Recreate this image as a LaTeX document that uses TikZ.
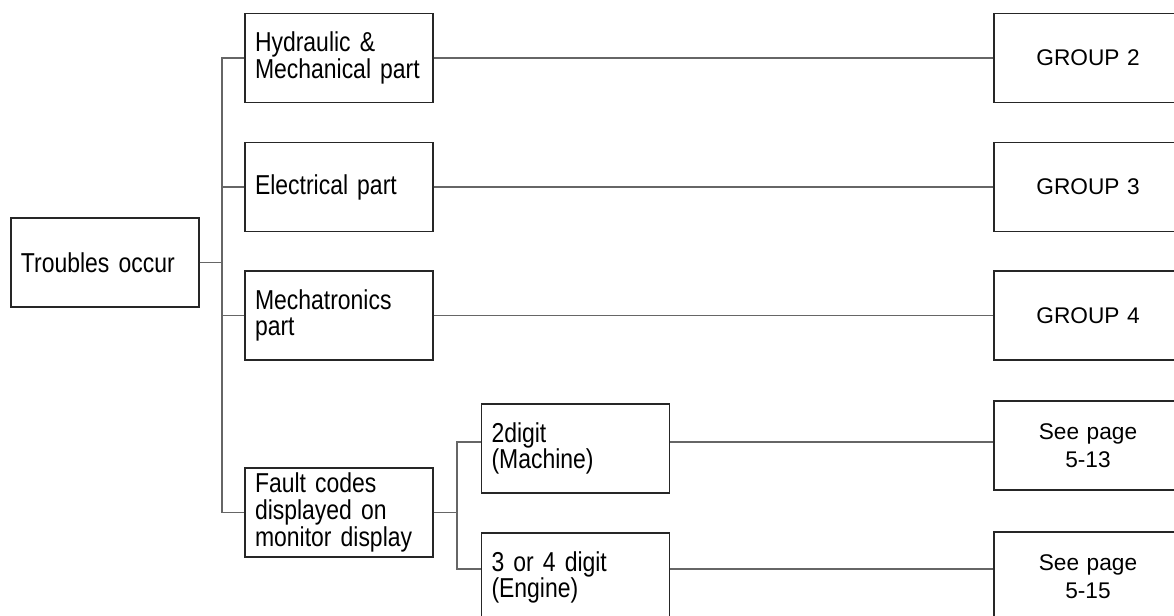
\documentclass[tikz,border=0pt]{standalone}
\usepackage{fontspec}
\setmainfont{Liberation Sans}
\newfontfamily\narrowfont[FakeStretch=0.84,WordSpace=0.8]{Liberation Sans}

\begin{document}
\begin{tikzpicture}[x=0.75pt,y=-0.75pt,
        box/.style={draw=black!85,line width=1.1pt,minimum width=141pt,minimum height=66.75pt,inner xsep=7.5pt,text width=126pt},
        leftbox/.style={box,align=left,font=\narrowfont\fontsize{20.5}{20}\selectfont},
        groupbox/.style={box,align=center,font=\fontsize{17}{21}\selectfont},
        link/.style={draw=black!60,line width=0.95pt}]
        \useasboundingbox (0,0) rectangle (1174,616);
        \clip (0,0) rectangle (1174,616);
        % 左边的框
        \node[leftbox] (trouble) at (105,262.5) {Troubles occur};
        \node[leftbox] (hyd) at (339,58) {Hydraulic \&\\Mechanical part};
        \node[leftbox] (elec) at (339,187) {Electrical part};
        \node[leftbox] (mech) at (339,315.5) {Mechatronics\\part};
        \node[leftbox] (fault) at (339,512.5) {Fault codes\\displayed on\\monitor display};
        \node[leftbox] (dig2) at (575.5,448.5) {2digit\\(Machine)};
        \node[leftbox] (dig34) at (575.5,577.5) {3 or 4 digit\\(Engine)};
        % 右边的框
        \node[groupbox] (grp2) at (1088,58) {GROUP 2};
        \node[groupbox] (grp3) at (1088,187) {GROUP 3};
        \node[groupbox] (grp4) at (1088,315.5) {GROUP 4};
        \node[groupbox] (see13) at (1088,445.5) {See page\\5-13};
        \node[groupbox] (see15) at (1088,576.5) {See page\\5-15};
        % 分支线
        \coordinate (br1) at (222,262.5);
        \draw[link] (trouble.east) -- (br1);
        \draw[link] (hyd.west) -| (br1) |- (fault.west);
        \foreach \n in {elec,mech}
            \draw[link] (\n.west) -- (br1 |- \n.west);
        \coordinate (br2) at (457,512.5);
        \coordinate (up2) at (457,442);
        \coordinate (dn2) at (457,569);
        \draw[link] (fault.east) -- (br2);
        \draw[link] (dig2.west |- up2) -- (up2) -- (dn2) -- (dig34.west |- dn2);
        % 到右边的线
        \draw[link] (hyd.east) -- (grp2.west);
        \draw[link] (elec.east) -- (grp3.west);
        \draw[link] (mech.east) -- (grp4.west);
        \draw[link] (dig2.east |- up2) -- (see13.west |- up2);
        \draw[link] (dig34.east |- dn2) -- (see15.west |- dn2);
    \end{tikzpicture}
\end{document}
